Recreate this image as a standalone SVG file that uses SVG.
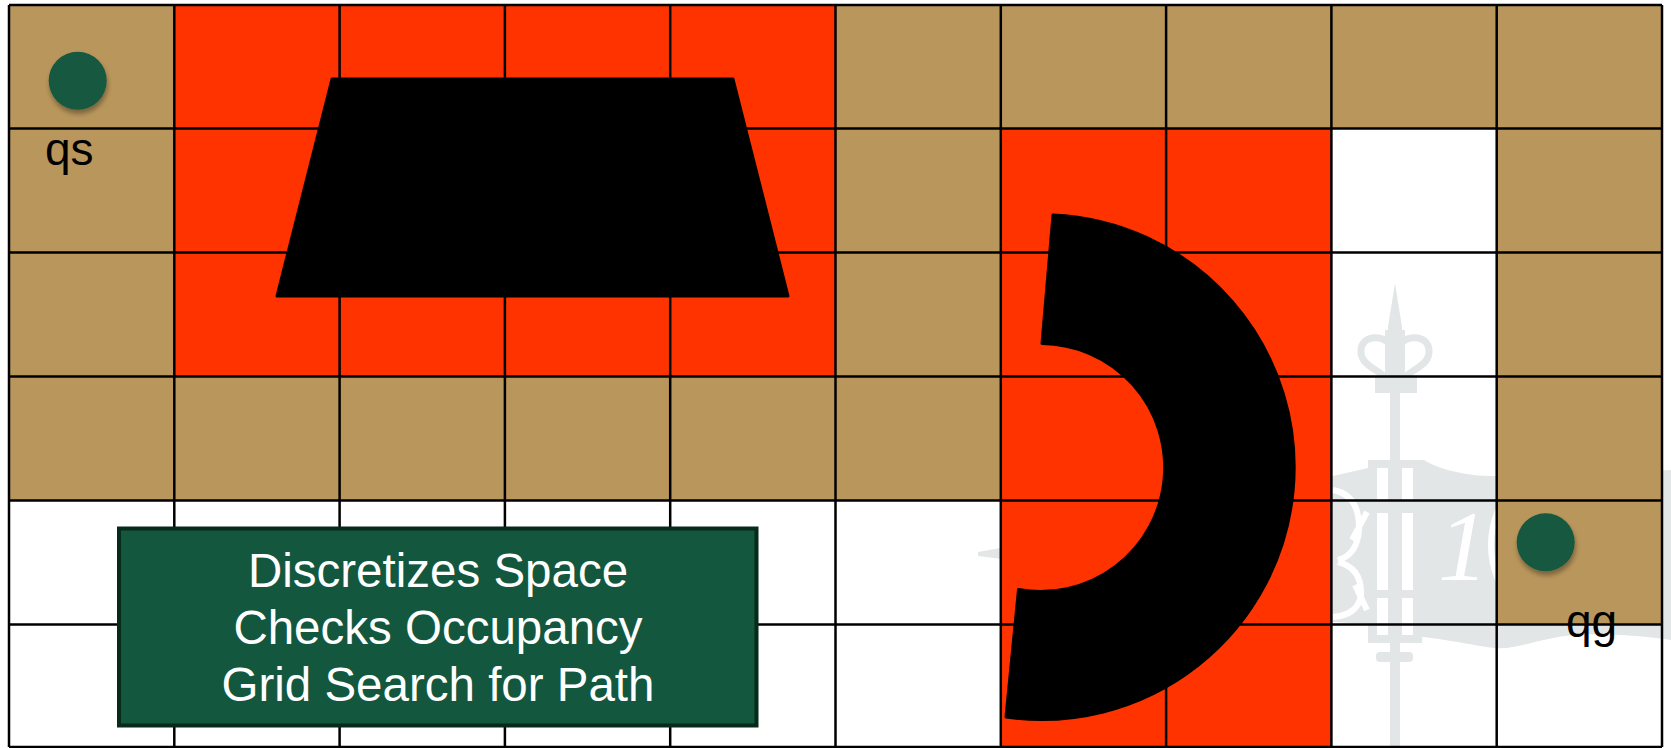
<svg xmlns="http://www.w3.org/2000/svg" width="1671" height="748" viewBox="0 0 1671 748">
  <style>
    .tan { fill: #B9965B; }
    .red { fill: #FF3300; }
    .grid { stroke: #000; stroke-width: 2.5; fill: none; }
    .obst { fill: #000; stroke: #000; stroke-width: 3; stroke-linejoin: round; }
    .pt { fill: #12583F; filter: url(#shadow); }
    .lbl { font-family: "Liberation Sans", Arial, sans-serif; font-size: 46px; fill: #000; }
    .box { fill: #13573F; stroke: #072a1b; stroke-width: 4; }
    .boxtxt { font-family: "Liberation Sans", Arial, sans-serif; font-size: 47.5px; fill: #fff; text-anchor: middle; }
    .wm { fill: #E3E6E6; }
    .wmcut { fill: none; stroke: #fff; stroke-width: 6; }
  </style>
  <defs>
    <filter id="shadow" x="-50%" y="-50%" width="200%" height="200%">
      <feDropShadow dx="1" dy="4" stdDeviation="2.5" flood-color="#000" flood-opacity="0.35"/>
    </filter>
  </defs>

  <rect x="0" y="0" width="1671" height="748" fill="#fff"/>

  <!-- faint watermark behind the grid -->
  <g id="watermark">
    <path class="wm" d="M 978,552 C 1100,530 1250,490 1333,476 L 1368,468 L 1368,460 L 1424,460 C 1440,470 1470,477 1500,476 C 1580,474 1640,471 1671,470 L 1671,640 C 1640,636 1600,632 1565,636 C 1535,640 1515,650 1495,648 C 1470,645 1440,638 1422,637 L 1422,643 L 1368,643 L 1368,624 L 1333,622 C 1250,600 1100,570 978,556 Z"/>
    <path class="wm" d="M 1395,283 L 1402,327 L 1402,334 L 1388,334 L 1388,327 Z"/>
    <path d="M 1386,378 C 1376,368 1360,365 1361,350 C 1362,336 1380,334 1390,344 M 1404,378 C 1414,368 1430,365 1429,350 C 1428,336 1410,334 1400,344" fill="none" stroke="#E3E6E6" stroke-width="7"/>
    <rect class="wm" x="1375" y="377" width="42" height="16"/>
    <rect class="wm" x="1385" y="330" width="20" height="50"/>
    <rect class="wm" x="1390" y="390" width="10" height="358"/>
    <rect class="wm" x="1376" y="652" width="37" height="10" rx="4"/>
    <rect x="1377" y="468" width="11" height="32" fill="#fff"/>
    <rect x="1402" y="468" width="11" height="32" fill="#fff"/>
    <rect x="1377" y="513" width="11" height="77" fill="#fff"/>
    <rect x="1402" y="513" width="11" height="77" fill="#fff"/>
    <rect x="1377" y="598" width="11" height="37" fill="#fff"/>
    <rect x="1402" y="598" width="11" height="37" fill="#fff"/>
    <path class="wmcut" d="M 1333,490 Q 1360,495 1359,530 Q 1357,555 1338,560 M 1338,562 Q 1362,568 1361,595 Q 1358,615 1333,617"/>
    <path class="wmcut" stroke-width="3" d="M 1352,540 L 1367,512 M 1355,585 L 1367,610"/>
    <text x="1438" y="580" font-family="Liberation Serif, serif" font-style="italic" font-size="100" fill="#fff">1</text>
    <path class="wmcut" d="M 1498,510 Q 1484,545 1498,580"/>
  </g>

  <!-- occupancy cells -->
  <g id="cells">
    <rect class="tan" x="9" y="5" width="165.3" height="495.5"/>
    <rect class="tan" x="9" y="376.5" width="991.8" height="124"/>
    <rect class="tan" x="835.5" y="5" width="826.5" height="123.5"/>
    <rect class="tan" x="835.5" y="5" width="165.3" height="495.5"/>
    <rect class="tan" x="1496.7" y="5" width="165.3" height="619.5"/>
    <rect class="red" x="174.3" y="5" width="661.2" height="371.5"/>
    <rect class="red" x="1000.8" y="128.5" width="330.6" height="618.5"/>
  </g>

  <!-- grid lines -->
  <g id="grid">
    <path class="grid" d="M 9,5 V 747 M 174.3,5 V 747 M 339.6,5 V 747 M 504.9,5 V 747 M 670.2,5 V 747 M 835.5,5 V 747 M 1000.8,5 V 747 M 1166.1,5 V 747 M 1331.4,5 V 747 M 1496.7,5 V 747 M 1662,5 V 747"/>
    <path class="grid" d="M 9,5 H 1662 M 9,128.5 H 1662 M 9,252.5 H 1662 M 9,376.5 H 1662 M 9,500.5 H 1662 M 9,624.5 H 1662 M 9,747 H 1662"/>
  </g>

  <g id="connectors"></g>

  <!-- obstacles -->
  <g id="obstacle-trapezoid">
    <polygon class="obst" points="332,79 733,79 788,296 277,296"/>
  </g>
  <g id="obstacle-arc">
    <path class="obst" d="M 1053,215 A 252.4 252.4 0 1 1 1006,717 L 1018.5,589.5 A 124 124 0 1 0 1042,343.5 Z"/>
  </g>

  <!-- start / goal -->
  <g id="qs">
    <circle class="pt" cx="77.7" cy="80.7" r="29"/>
    <text class="lbl" x="45" y="165">qs</text>
  </g>
  <g id="qg">
    <circle class="pt" cx="1545.7" cy="542.3" r="29"/>
    <text class="lbl" x="1566" y="637">qg</text>
  </g>

  <!-- description box -->
  <g id="description">
    <rect class="box" x="119" y="528.5" width="637.5" height="197"/>
    <text class="boxtxt" x="438" y="587">Discretizes Space</text>
    <text class="boxtxt" x="438" y="643.5">Checks Occupancy</text>
    <text class="boxtxt" x="438" y="700.5">Grid Search for Path</text>
  </g>
</svg>
